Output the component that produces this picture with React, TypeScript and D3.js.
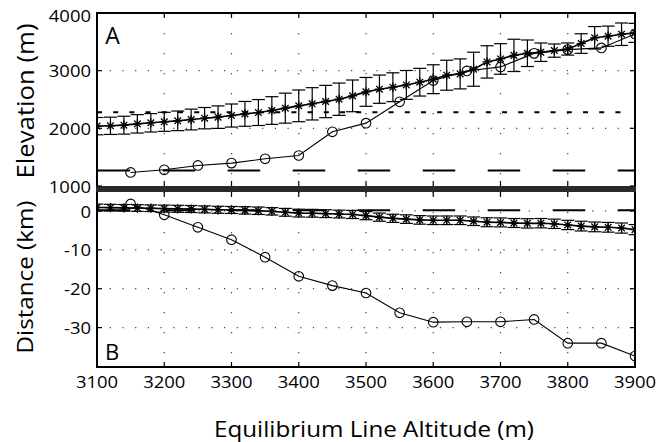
import React from "react";
import * as d3 from "d3";

const starX = [3100,3120,3140,3160,3180,3200,3220,3240,3260,3280,3300,3320,3340,3360,3380,3400,3420,3440,3460,3480,3500,3520,3540,3560,3580,3600,3620,3640,3660,3680,3700,3720,3740,3760,3780,3800,3820,3840,3860,3880,3900];
const starElev = [2038,2044,2055,2078,2096,2113,2130,2153,2176,2194,2222,2251,2274,2309,2350,2390,2425,2465,2505,2563,2632,2679,2713,2753,2800,2852,2921,2944,3025,3152,3203,3265,3302,3320,3348,3375,3470,3570,3598,3632,3655];
const starElevErr = [150,150,155,160,160,165,170,180,185,195,200,215,225,240,260,275,280,280,280,275,250,245,250,250,240,250,260,260,295,280,265,280,230,160,115,105,170,195,175,195,165];
const starDist = [0.9,0.85,0.8,0.75,0.7,0.6,0.55,0.5,0.4,0.3,0.25,0.15,0.05,-0.1,-0.35,-0.55,-0.6,-0.7,-0.8,-0.9,-1.2,-1.6,-1.9,-2.1,-2.3,-2.4,-2.4,-2.4,-2.65,-2.9,-2.95,-3.1,-3.2,-3.15,-3.3,-3.6,-3.9,-4.1,-4.2,-4.4,-4.8];
const starDistErr = [0.85,0.85,0.85,0.85,0.85,0.9,0.9,0.9,0.9,0.9,0.9,0.95,0.95,0.95,1.0,1.0,1.0,1.0,1.0,1.05,1.05,1.05,1.05,1.1,1.1,1.1,1.1,1.1,1.1,1.15,1.15,1.15,1.2,1.2,1.2,1.2,1.25,1.25,1.25,1.3,1.3];

const circX = [3150,3200,3250,3300,3350,3400,3450,3500,3550,3600,3650,3700,3750,3800,3850,3900];
const circElev = [1235,1281,1356,1397,1472,1529,1940,2090,2460,2828,2995,3065,3300,3365,3395,3636];
const circDist = [1.8,-1.0,-4.2,-7.4,-11.9,-16.8,-19.2,-21.1,-26.2,-28.6,-28.5,-28.5,-27.9,-34.0,-34.0,-37.3];

const xTicks = [3100,3200,3300,3400,3500,3600,3700,3800,3900];
const elevTicks = [1000,2000,3000,4000];
const distTicks = [0,-10,-20,-30];
const dottedLevel = 2280;
const dashedElevLevel = 1270;
const dashedDistLevel = 0.2;

const FONT = "'Open Sans', sans-serif";

function Star({ x, y, s }: { x: number; y: number; s: number }) {
  const d = s * 0.72;
  return (
    <path
      d={`M${x - s},${y}H${x + s}M${x},${y - s}V${y + s}M${x - d},${y - d}L${x + d},${y + d}M${x - d},${y + d}L${x + d},${y - d}`}
      stroke="#000"
      strokeWidth={1.3}
    />
  );
}

function Txt(props: { x: number; y: number; size: number; anchor?: string; rotate?: number; sx?: number; children: any }) {
  const { x, y, size, anchor = "middle", rotate = 0, sx = 1.12, children } = props;
  return (
    <text
      transform={`translate(${x},${y}) rotate(${rotate}) scale(${sx},1)`}
      fontFamily={FONT}
      fontSize={size}
      textAnchor={anchor}
      dominantBaseline="central"
      fill="#000"
    >
      {children}
    </text>
  );
}

export default function App() {
  const W = 665, H = 442;
  const x = d3.scaleLinear().domain([3100, 3900]).range([97, 635]);
  const yT = d3.scaleLinear().domain([1000, 4000]).range([186, 13]);
  const yB = d3.scaleLinear().domain([-40, 5]).range([366.5, 191.5]);
  const capHalf = 6.5;

  const lineT = d3.line<number>().x((_, i) => x(starX[i])).y((v) => yT(v));
  const lineB = d3.line<number>().x((_, i) => x(starX[i])).y((v) => yB(v));
  const cLineT = d3.line<number>().x((_, i) => x(circX[i])).y((v) => yT(v));
  const cLineB = d3.line<number>().x((_, i) => x(circX[i])).y((v) => yB(v));

  const innerTicks = xTicks.slice(1, -1);
  const gridColor = "#444";

  const panel = (
    y: d3.ScaleLinear<number, number>,
    top: number,
    bottom: number,
    yTicks: number[],
    vals: number[],
    errs: number[],
    cvals: number[],
    lineFn: any,
    cLineFn: any,
    key: string
  ) => (
    <g key={key}>
      {innerTicks.map((t) => (
        <line key={"vg" + t} x1={x(t)} x2={x(t)} y1={top} y2={bottom} stroke={gridColor} strokeWidth={1.2} strokeDasharray="1.2,18.8" />
      ))}
      {yTicks.filter((t) => y(t) > top + 3 && y(t) < bottom - 3).map((t) => (
        <line key={"hg" + t} x1={97} x2={635} y1={y(t)} y2={y(t)} stroke={gridColor} strokeWidth={1.2} strokeDasharray="1.2,11.5" />
      ))}
      {vals.map((v, i) => (
        <g key={"e" + i} stroke="#000" strokeWidth={1.2}>
          <line x1={x(starX[i])} x2={x(starX[i])} y1={y(v - errs[i])} y2={y(v + errs[i])} />
          <line x1={x(starX[i]) - capHalf} x2={x(starX[i]) + capHalf} y1={y(v - errs[i])} y2={y(v - errs[i])} />
          <line x1={x(starX[i]) - capHalf} x2={x(starX[i]) + capHalf} y1={y(v + errs[i])} y2={y(v + errs[i])} />
        </g>
      ))}
      <path d={lineFn(vals) || ""} fill="none" stroke="#000" strokeWidth={1.6} />
      {vals.map((v, i) => (
        <Star key={"s" + i} x={x(starX[i])} y={y(v)} s={4.6} />
      ))}
      <path d={cLineFn(cvals) || ""} fill="none" stroke="#000" strokeWidth={1.1} />
      {cvals.map((v, i) => (
        <circle key={"c" + i} cx={x(circX[i])} cy={y(v)} r={4.8} fill="none" stroke="#000" strokeWidth={1.1} />
      ))}
    </g>
  );

  return (
    <svg width={W} height={H} style={{ position: "absolute", left: 0, top: 0, background: "#fff" }}>
      <rect x={0} y={0} width={W} height={H} fill="#fff" />
      <defs>
        <clipPath id="clipT"><rect x={97} y={13} width={538} height={173} /></clipPath>
        <clipPath id="clipB"><rect x={97} y={192} width={538} height={175} /></clipPath>
      </defs>

      <g clipPath="url(#clipT)">
        <line x1={97} x2={623} y1={yT(dottedLevel)} y2={yT(dottedLevel)} stroke="#000" strokeWidth={2} strokeDasharray="5,11.2" />
        <line x1={97.7} x2={635} y1={yT(dashedElevLevel)} y2={yT(dashedElevLevel)} stroke="#000" strokeWidth={2} strokeDasharray="32.5,32.5" />
        {panel(yT, 13, 186, elevTicks, starElev, starElevErr, circElev, lineT, cLineT, "top")}
      </g>

      <g clipPath="url(#clipB)">
        <line x1={97.7} x2={635} y1={yB(dashedDistLevel)} y2={yB(dashedDistLevel)} stroke="#000" strokeWidth={2} strokeDasharray="32.5,32.5" />
        {panel(yB, 192, 367, distTicks, starDist, starDistErr, circDist, lineB, cLineB, "bot")}
      </g>

      <rect x={97} y={13} width={538} height={354} fill="none" stroke="#000" strokeWidth={2} />
      <rect x={96} y={186} width={540} height={6} fill="#2a2a2a" />

      {innerTicks.map((t) => (
        <g key={"xt" + t} stroke="#000" strokeWidth={1.2}>
          <line x1={x(t)} x2={x(t)} y1={13} y2={18} />
          <line x1={x(t)} x2={x(t)} y1={186} y2={181} />
          <line x1={x(t)} x2={x(t)} y1={192} y2={197} />
          <line x1={x(t)} x2={x(t)} y1={367} y2={362} />
        </g>
      ))}
      {elevTicks.map((t) => (
        <g key={"yt" + t} stroke="#000" strokeWidth={1.2}>
          <line x1={97} x2={102} y1={yT(t)} y2={yT(t)} />
          <line x1={635} x2={630} y1={yT(t)} y2={yT(t)} />
        </g>
      ))}
      {distTicks.map((t) => (
        <g key={"yb" + t} stroke="#000" strokeWidth={1.2}>
          <line x1={97} x2={102} y1={yB(t)} y2={yB(t)} />
          <line x1={635} x2={630} y1={yB(t)} y2={yB(t)} />
        </g>
      ))}

      {elevTicks.map((t) => (
        <Txt key={"el" + t} x={91} y={yT(t) + (t === 4000 ? 2 : 0)} size={16.5} anchor="end">{String(t)}</Txt>
      ))}
      {distTicks.map((t) => (
        <Txt key={"dl" + t} x={91} y={yB(t)} size={16.5} anchor="end">{String(t)}</Txt>
      ))}
      {xTicks.map((t) => (
        <Txt key={"xl" + t} x={x(t)} y={381} size={16.5}>{String(t)}</Txt>
      ))}

      <Txt x={112.5} y={35} size={23} sx={1.0}>A</Txt>
      <Txt x={112} y={351} size={22} sx={1.0}>B</Txt>

      <Txt x={25} y={101} size={23} rotate={-90} sx={1.12}>Elevation (m)</Txt>
      <Txt x={24} y={277} size={22} rotate={-90} sx={1.1}>Distance (km)</Txt>
      <Txt x={374} y={428} size={22} sx={1.1}>Equilibrium Line Altitude (m)</Txt>
    </svg>
  );
}
